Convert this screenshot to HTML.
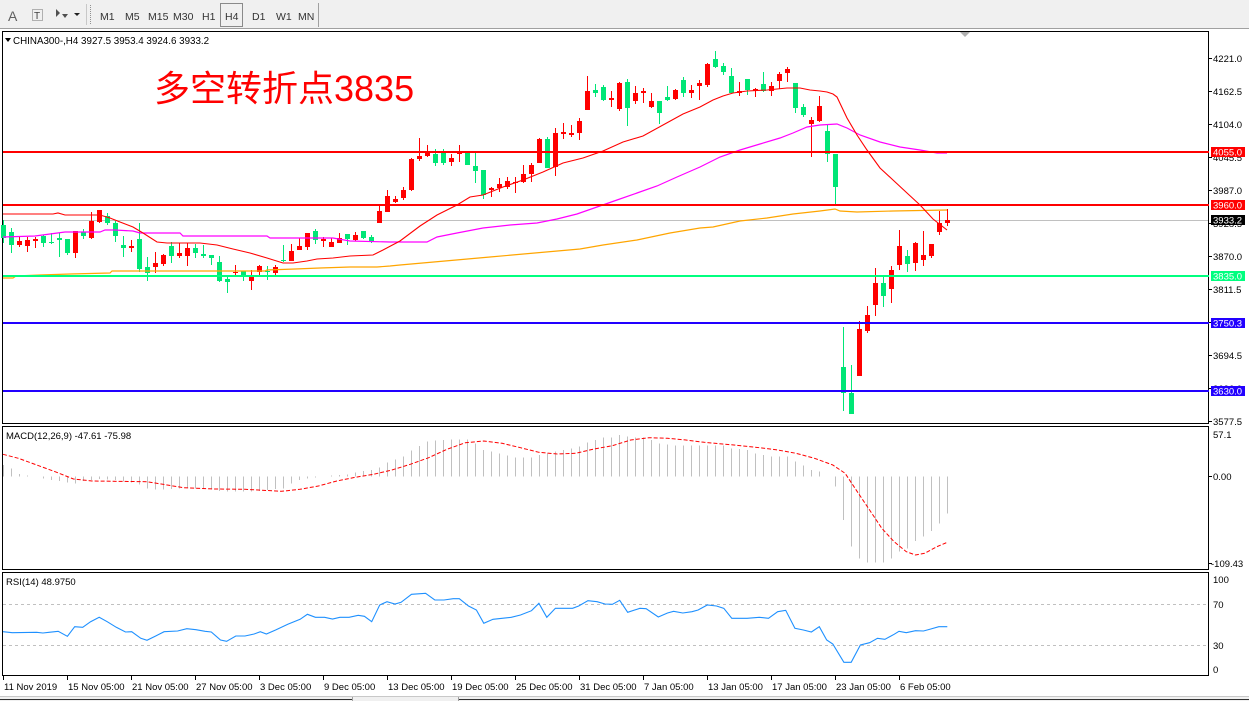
<!DOCTYPE html>
<html><head><meta charset="utf-8"><style>
html,body{margin:0;padding:0;background:#fff;width:1249px;height:701px;overflow:hidden}
svg{display:block}
text{font-family:"Liberation Sans","Noto Sans CJK SC",sans-serif}
</style></head><body>
<svg width="1249" height="701" viewBox="0 0 1249 701" xmlns="http://www.w3.org/2000/svg">
<rect x="0" y="0" width="1249" height="701" fill="#fff"/>
<!-- toolbar -->
<rect x="0" y="0" width="1249" height="28" fill="#f0f0f0"/>
<line x1="0" y1="28.5" x2="1249" y2="28.5" stroke="#a0a0a0"/>
<text x="8" y="21" font-size="14" fill="#606060">A</text>
<rect x="32.5" y="9.5" width="10" height="11" fill="none" stroke="#707070" stroke-dasharray="1 1"/>
<text x="34" y="19" font-size="10" fill="#404040">T</text>
<path d="M56 9 l4 4 l-4 4z M62 14 l6 0 l-3 4z" fill="#505050"/>
<path d="M74 13 h6 l-3 3z" fill="#202020"/>
<line x1="90.5" y1="5" x2="90.5" y2="24" stroke="#909090" stroke-dasharray="1 1"/>
<line x1="86.5" y1="4" x2="86.5" y2="25" stroke="#c8c8c8"/>
<g font-size="10.5" fill="#333">
<text x="100" y="20">M1</text>
<text x="125" y="20">M5</text>
<text x="148" y="20">M15</text>
<text x="173" y="20">M30</text>
<text x="202" y="20">H1</text>
<text x="225" y="20">H4</text>
<text x="252" y="20">D1</text>
<text x="276" y="20">W1</text>
<text x="298" y="20">MN</text>
</g>
<rect x="220.5" y="3.5" width="22" height="23" fill="none" stroke="#8a8a8a"/>
<line x1="318.5" y1="3" x2="318.5" y2="27" stroke="#a0a0a0"/>

<!-- panels -->
<rect x="2.5" y="31.5" width="1206" height="392" fill="#fff" stroke="#000"/>
<rect x="2.5" y="426.5" width="1206" height="143" fill="#fff" stroke="#000"/>
<rect x="2.5" y="572.5" width="1206" height="103" fill="#fff" stroke="#000"/>

<!-- title -->
<path d="M5 38 h6 l-3 4z" fill="#000"/>
<text x="13" y="44" font-size="9.8" fill="#000">CHINA300-,H4  3927.5 3953.4 3924.6 3933.2</text>
<text x="154" y="101" font-size="36" fill="#ff0000">多空转折点3835</text>
<path d="M960 32 h10 l-5 5z" fill="#b0b0b0"/>

<!-- bid line -->
<line x1="3" y1="220.5" x2="1208" y2="220.5" stroke="#c0c0c0"/>

<!-- candles -->
<g shape-rendering="crispEdges">
<path fill="none" stroke="#00e676" stroke-width="1" d="M3.5 220V243M11.5 228V253M43.5 235V247M51.5 233V244M59.5 233V257M67.5 239V255M83.5 229V239M107.5 213V225M115.5 221V242M123.5 236V257M139.5 223V272M147.5 257V281M171.5 242V263M195.5 244V258M203.5 245V258M211.5 255V265M219.5 256V282M227.5 275V293M243.5 271V281M267.5 266V280M283.5 245V262M315.5 229V244M347.5 234V245M363.5 231V239M371.5 235V243M435.5 149V166M443.5 149V165M467.5 153V165M475.5 153V183M483.5 170V199M547.5 137V168M595.5 84V97M603.5 85V101M627.5 79V126M659.5 101V124M667.5 86V101M683.5 77V97M715.5 51V68M723.5 63V75M731.5 68V93M747.5 79V95M763.5 72V92M795.5 83V113M803.5 104V117M827.5 125V162M835.5 154V204M843.5 327V411M851.5 365V414M883.5 277V307M907.5 250V272"/>
<path fill="#00e676" d="M1 225h5V238h-5ZM9 232h5V245h-5ZM41 236h5V243h-5ZM49 242h5V243h-5ZM57 238h5V240h-5ZM65 239h5V253h-5ZM81 232h5V236h-5ZM105 216h5V223h-5ZM113 223h5V236h-5ZM121 245h5V248h-5ZM137 239h5V269h-5ZM145 267h5V273h-5ZM169 246h5V256h-5ZM193 248h5V253h-5ZM201 254h5V256h-5ZM209 255h5V258h-5ZM217 262h5V281h-5ZM225 279h5V282h-5ZM241 271h5V277h-5ZM265 271h5V272h-5ZM281 260h5V261h-5ZM313 231h5V240h-5ZM345 234h5V239h-5ZM361 231h5V238h-5ZM369 237h5V242h-5ZM433 154h5V163h-5ZM441 153h5V163h-5ZM465 153h5V165h-5ZM473 166h5V171h-5ZM481 170h5V195h-5ZM545 139h5V168h-5ZM593 90h5V93h-5ZM601 87h5V100h-5ZM625 82h5V108h-5ZM657 101h5V113h-5ZM665 97h5V100h-5ZM681 80h5V93h-5ZM713 59h5V67h-5ZM721 66h5V72h-5ZM729 76h5V93h-5ZM745 79h5V90h-5ZM761 84h5V91h-5ZM793 83h5V108h-5ZM801 107h5V115h-5ZM825 131h5V154h-5ZM833 154h5V187h-5ZM841 367h5V393h-5ZM849 393h5V414h-5ZM881 283h5V296h-5ZM905 256h5V264h-5Z"/>
<path fill="none" stroke="#ff0000" stroke-width="1" d="M19.5 237V247M27.5 237V252M35.5 237V248M75.5 231V258M91.5 212V239M99.5 210V223M131.5 240V252M155.5 252V273M163.5 254V266M179.5 243V258M187.5 243V266M235.5 265V275M251.5 270V290M259.5 265V275M275.5 265V275M291.5 244V261M299.5 238V250M307.5 233V250M323.5 237V247M331.5 238V247M339.5 233V243M355.5 232V241M379.5 206V223M387.5 190V212M395.5 196V203M403.5 187V200M411.5 158V191M419.5 138V161M427.5 145V157M451.5 154V166M459.5 145V162M491.5 187V197M499.5 178V192M507.5 177V189M515.5 177V193M523.5 165V183M531.5 163V182M539.5 138V163M555.5 128V176M563.5 123V139M571.5 125V137M579.5 118V140M587.5 76V110M611.5 91V107M619.5 82V111M635.5 86V104M643.5 88V103M651.5 93V108M675.5 89V100M691.5 85V98M699.5 80V100M707.5 63V87M739.5 82V96M755.5 88V97M771.5 82V96M779.5 72V89M787.5 67V82M811.5 117V157M819.5 96V122M859.5 321V376M867.5 306V333M875.5 268V316M891.5 266V303M899.5 230V270M915.5 242V271M923.5 231V266M931.5 244V258M939.5 211V235M947.5 209V226"/>
<path fill="#ff0000" d="M17 241h5V245h-5ZM25 240h5V246h-5ZM33 239h5V241h-5ZM73 231h5V253h-5ZM89 221h5V238h-5ZM97 210h5V222h-5ZM129 246h5V248h-5ZM153 263h5V267h-5ZM161 255h5V264h-5ZM177 253h5V256h-5ZM185 248h5V256h-5ZM233 272h5V273h-5ZM249 276h5V281h-5ZM257 266h5V272h-5ZM273 267h5V273h-5ZM289 251h5V261h-5ZM297 246h5V250h-5ZM305 233h5V247h-5ZM321 239h5V241h-5ZM329 242h5V247h-5ZM337 238h5V243h-5ZM353 235h5V240h-5ZM377 211h5V223h-5ZM385 196h5V212h-5ZM393 199h5V202h-5ZM401 190h5V198h-5ZM409 159h5V190h-5ZM417 156h5V159h-5ZM425 153h5V156h-5ZM449 158h5V162h-5ZM457 153h5V154h-5ZM489 188h5V190h-5ZM497 184h5V188h-5ZM505 181h5V187h-5ZM513 182h5V183h-5ZM521 174h5V182h-5ZM529 165h5V174h-5ZM537 139h5V163h-5ZM553 133h5V167h-5ZM561 132h5V134h-5ZM569 133h5V135h-5ZM577 121h5V133h-5ZM585 91h5V110h-5ZM609 98h5V100h-5ZM617 83h5V109h-5ZM633 93h5V101h-5ZM641 91h5V93h-5ZM649 101h5V107h-5ZM673 90h5V99h-5ZM689 90h5V93h-5ZM697 83h5V86h-5ZM705 64h5V85h-5ZM737 91h5V93h-5ZM753 89h5V91h-5ZM769 86h5V91h-5ZM777 74h5V81h-5ZM785 69h5V73h-5ZM809 120h5V124h-5ZM817 106h5V121h-5ZM857 329h5V376h-5ZM865 315h5V331h-5ZM873 283h5V305h-5ZM889 270h5V289h-5ZM897 246h5V265h-5ZM913 243h5V263h-5ZM921 255h5V260h-5ZM929 244h5V256h-5ZM937 223h5V232h-5ZM945 220h5V223h-5Z"/>
</g>

<!-- moving averages -->
<polyline fill="none" stroke="#ffa500" stroke-width="1.2" points="3,278 13,278 16,276 40,275 70,274 110,273 112,271 265,271 267,270 295,269 320,268 350,267 377,267 390,266 400,265 490,257 580,249 603,245 637,240 670,233 700,228 713,227 740,221 767,218 793,214 820,211 835,209 840,211 857,212 893,211 947,210"/>
<polyline fill="none" stroke="#ff00ff" stroke-width="1.2" points="3,237 35,236 50,234 65,232 100,232 105,230 115,230 133,231 140,233 180,233 183,236 267,236 270,238 333,238 350,241 390,242 427,242 437,237 457,233 483,228 510,225 537,223 557,219 577,214 597,207 617,200 637,193 657,186 677,177 700,167 720,157 740,150 760,144 780,138 793,133 807,127 820,125 837,124 847,128 860,135 880,142 900,147 920,150 937,153 947,153"/>
<polyline fill="none" stroke="#ff0000" stroke-width="1.1" points="3,214 53,214 58,213 65,215 100,215 110,218 120,222 133,227 143,233 157,242 167,243 200,243 217,245 233,249 250,253 267,258 283,263 293,263 307,261 317,259 333,258 350,256 373,255 383,250 400,241 420,226 437,215 457,205 470,197 483,195 503,187 523,180 543,172 563,163 583,158 603,151 623,142 643,136 663,125 683,114 700,107 713,100 723,96 733,93 747,91 767,90 787,88 800,88 810,90 820,91 827,92 833,94 837,97 847,118 857,135 867,150 880,168 893,180 907,193 920,205 933,219 947,230"/>

<!-- horizontal levels -->
<g shape-rendering="crispEdges">
<rect x="3" y="151" width="1206" height="2" fill="#ff0000"/>
<rect x="3" y="204" width="1206" height="2" fill="#ff0000"/>
<rect x="3" y="275" width="1206" height="2" fill="#00ff7f"/>
<rect x="3" y="322" width="1206" height="2" fill="#2200ff"/>
<rect x="3" y="390" width="1206" height="2" fill="#2200ff"/>
</g>

<!-- price axis -->
<g stroke="#000" shape-rendering="crispEdges">
<path d="M1209 58.5h3M1209 91.5h3M1209 124.5h3M1209 157.5h3M1209 190.5h3M1209 223.5h3M1209 256.5h3M1209 289.5h3M1209 322.5h3M1209 355.5h3M1209 388.5h3M1209 421.5h3"/>
</g>
<g font-size="9.5" fill="#000">
<text x="1213" y="62">4221.0</text>
<text x="1213" y="95">4162.5</text>
<text x="1213" y="128">4104.0</text>
<text x="1213" y="161">4045.5</text>
<text x="1213" y="194">3987.0</text>
<text x="1213" y="227">3928.5</text>
<text x="1213" y="260">3870.0</text>
<text x="1213" y="293">3811.5</text>
<text x="1213" y="326">3753.0</text>
<text x="1213" y="359">3694.5</text>
<text x="1213" y="392">3636.0</text>
<text x="1213" y="425">3577.5</text>
</g>
<g shape-rendering="crispEdges">
<rect x="1211" y="147" width="34" height="10" fill="#ff0000"/>
<rect x="1211" y="200" width="34" height="10" fill="#ff0000"/>
<rect x="1211" y="215" width="34" height="10" fill="#000"/>
<rect x="1211" y="271" width="34" height="10" fill="#00ff7f"/>
<rect x="1211" y="318" width="34" height="10" fill="#2200ff"/>
<rect x="1211" y="386" width="34" height="10" fill="#2200ff"/>
</g>
<g font-size="9.5" fill="#fff">
<text x="1213" y="155.5">4055.0</text>
<text x="1213" y="208.5">3960.0</text>
<text x="1213" y="223.5">3933.2</text>
<text x="1213" y="279.5">3835.0</text>
<text x="1213" y="326.5">3750.3</text>
<text x="1213" y="394.5">3630.0</text>
</g>

<!-- MACD -->
<text x="6" y="439" font-size="9.5" fill="#000">MACD(12,26,9) -47.61 -75.98</text>
<path fill="none" stroke="#c0c0c0" stroke-width="1" shape-rendering="crispEdges" d="M3.5 476.5V465M11.5 476.5V468.3M19.5 476.5V474M27.5 476.5V475.7M43.5 476.5V478.3M51.5 476.5V480M59.5 476.5V481M67.5 476.5V482.3M75.5 476.5V483.3M83.5 476.5V481M91.5 476.5V480M99.5 476.5V479M107.5 476.5V479.3M115.5 476.5V480M123.5 476.5V481.7M131.5 476.5V482.3M139.5 476.5V484.3M147.5 476.5V488.3M155.5 476.5V489.3M163.5 476.5V489.3M171.5 476.5V489M179.5 476.5V488.3M187.5 476.5V487.7M195.5 476.5V488.3M203.5 476.5V489M211.5 476.5V489.3M219.5 476.5V491M227.5 476.5V491.7M235.5 476.5V491.7M243.5 476.5V491.7M251.5 476.5V491.7M259.5 476.5V491M267.5 476.5V490M275.5 476.5V489M283.5 476.5V488.3M291.5 476.5V483.3M299.5 476.5V480M307.5 476.5V478.3M315.5 476.5V477.3M331.5 476.5V475.7M339.5 476.5V475M347.5 476.5V474.3M355.5 476.5V472.7M363.5 476.5V471M371.5 476.5V470M379.5 476.5V467.7M387.5 476.5V462.7M395.5 476.5V459.3M403.5 476.5V456.7M411.5 476.5V450.7M419.5 476.5V446M427.5 476.5V441.7M435.5 476.5V440.7M443.5 476.5V440M451.5 476.5V439.3M459.5 476.5V439.3M467.5 476.5V439.3M475.5 476.5V443.3M483.5 476.5V450M491.5 476.5V451.7M499.5 476.5V453.3M507.5 476.5V455.7M515.5 476.5V457.3M523.5 476.5V457.3M531.5 476.5V457.3M539.5 476.5V455M547.5 476.5V453.3M555.5 476.5V451.7M563.5 476.5V450M571.5 476.5V448.3M579.5 476.5V446.7M587.5 476.5V442.3M595.5 476.5V440M603.5 476.5V437.7M611.5 476.5V437.7M619.5 476.5V435M627.5 476.5V436.7M635.5 476.5V437.3M643.5 476.5V437.3M651.5 476.5V440M659.5 476.5V443.3M667.5 476.5V444.3M675.5 476.5V445.7M683.5 476.5V445.7M691.5 476.5V445.7M699.5 476.5V445.7M707.5 476.5V445.7M715.5 476.5V445.7M723.5 476.5V445.7M731.5 476.5V448.3M739.5 476.5V449M747.5 476.5V450M755.5 476.5V453.3M763.5 476.5V455M771.5 476.5V456.7M779.5 476.5V456.7M787.5 476.5V456.7M795.5 476.5V461.7M803.5 476.5V465.7M811.5 476.5V470M819.5 476.5V471.7M835.5 476.5V486.7M843.5 476.5V520M851.5 476.5V546.7M859.5 476.5V558.3M867.5 476.5V562.7M875.5 476.5V562.7M883.5 476.5V562.7M891.5 476.5V558.3M899.5 476.5V551.7M907.5 476.5V548.3M915.5 476.5V541M923.5 476.5V536.7M931.5 476.5V531M939.5 476.5V523.3M947.5 476.5V513.3"/>
<polyline fill="none" stroke="#ff0000" stroke-width="1" stroke-dasharray="4 2" points="3,454.3 18.4,458.3 36.7,465 55.1,471.7 73.5,479 91.9,481 147,481.7 183.7,487.7 214.3,489 245,489.3 281.7,491.3 300,489.3 318.4,486 336.8,481 355.2,477.3 373.5,474.3 391.9,470 410.3,464.3 428.7,457.7 447,449.3 465.4,442.7 483.8,441 502.1,443.3 520.5,447.7 538.9,452.3 557.3,454 575.6,453.3 594,449 612.4,445.7 630.7,440 649.1,437.7 667.5,438.3 685.9,440 704.2,442.3 722.6,444 741,445.7 759.3,447.7 777.7,450 796.1,453.3 814.5,458.3 832.8,465 845.1,473.3 857.3,491.7 869.6,510 881.8,528.3 894.1,541.7 906.3,551.7 915.5,555 924.7,553.3 936.9,546.7 947.3,542.3"/>
<g stroke="#000" shape-rendering="crispEdges"><path d="M1209 476.5h3M1209 563.5h3"/></g>
<g font-size="9.5" fill="#000">
<text x="1213" y="438">57.1</text>
<text x="1213" y="480">0.00</text>
<text x="1211" y="567">-109.43</text>
</g>

<!-- RSI -->
<text x="6" y="585" font-size="9.5" fill="#000">RSI(14) 48.9750</text>
<line x1="3" y1="604.5" x2="1208" y2="604.5" stroke="#c0c0c0" stroke-dasharray="3 3"/>
<line x1="3" y1="645.5" x2="1208" y2="645.5" stroke="#c0c0c0" stroke-dasharray="3 3"/>
<polyline fill="none" stroke="#1e90ff" stroke-width="1.1" points="3,631.7 12.2,632.7 36.7,632.3 42.9,633 49,632.3 58.2,631.3 67.4,636.3 74.7,626.7 82.7,627.3 90.6,621.7 99.2,617.3 107.2,621.7 116.3,627.3 125.5,632 131.7,631.7 140.8,638.3 147,640.3 156.2,635.7 164.1,631.7 177.6,631 186.8,628.7 196,629.7 205.1,631.3 211.3,632 220.5,640 226.6,641.3 235.8,636 245,636 254.1,634 260.3,631.7 266.4,634 275.6,630 287.8,624.3 300.1,619.3 307.4,614.3 315.4,617.3 324.6,617.3 332.5,619 339.9,617.3 349.1,617.3 358.2,615.3 364.4,616.3 371.7,621.7 379.7,605 387,601.7 395,604 401.1,602.3 411.5,594.3 425.6,593.3 434.8,600 444,600 453.2,598.7 459.3,598.7 468.5,606 476.4,610 483.8,623.3 493,619.3 502.1,618.3 511.3,617.3 520.5,615 531.5,610.7 538.9,603.3 546.8,617.3 555.4,608.3 572.6,608.3 578.7,606 587.9,600.7 597.1,601.7 605,604 612.4,604.3 619.7,600.3 627.7,612.3 639.9,608.3 646.1,608.7 658.3,617 667.5,613 673.6,611.3 682.8,613 692,611.7 698.1,610 707.3,605 716.5,606 723.8,608.3 731.8,618.3 747.1,618.3 759.3,617.3 768.5,618.3 777.7,611.7 785.7,610.3 794.9,628.3 803.4,630 811.4,632 819.3,626.7 826.7,640 832.8,644 843.9,662.3 851.2,662.3 860.4,645 869.6,642.7 877.5,638.3 884.9,639.3 894.1,634.3 899,631.3 906.3,632.7 915.5,630.7 923.5,631 930.8,629 938.8,626.7 947.3,626.7"/>
<g font-size="9.5" fill="#000">
<text x="1213" y="583">100</text>
<text x="1213" y="608">70</text>
<text x="1213" y="649">30</text>
<text x="1213" y="673">0</text>
</g>

<!-- time axis -->
<g stroke="#000" shape-rendering="crispEdges">
<path d="M3.5 676v4M67.5 676v4M131.5 676v4M195.5 676v4M259.5 676v4M323.5 676v4M387.5 676v4M451.5 676v4M515.5 676v4M579.5 676v4M643.5 676v4M707.5 676v4M771.5 676v4M835.5 676v4M899.5 676v4"/>
</g>
<g font-size="9.5" fill="#000">
<text x="4" y="690">11 Nov 2019</text>
<text x="68" y="690">15 Nov 05:00</text>
<text x="132" y="690">21 Nov 05:00</text>
<text x="196" y="690">27 Nov 05:00</text>
<text x="260" y="690">3 Dec 05:00</text>
<text x="324" y="690">9 Dec 05:00</text>
<text x="388" y="690">13 Dec 05:00</text>
<text x="452" y="690">19 Dec 05:00</text>
<text x="516" y="690">25 Dec 05:00</text>
<text x="580" y="690">31 Dec 05:00</text>
<text x="644" y="690">7 Jan 05:00</text>
<text x="708" y="690">13 Jan 05:00</text>
<text x="772" y="690">17 Jan 05:00</text>
<text x="836" y="690">23 Jan 05:00</text>
<text x="900" y="690">6 Feb 05:00</text>
</g>

<!-- bottom tab bar -->
<rect x="0" y="696" width="1249" height="5" fill="#f0f0f0"/>
<line x1="0" y1="696.5" x2="1249" y2="696.5" stroke="#c8c8c8"/>
<line x1="0" y1="699.5" x2="352" y2="699.5" stroke="#303030"/>
<line x1="459" y1="699.5" x2="1249" y2="699.5" stroke="#303030"/>
<line x1="352.5" y1="697" x2="352.5" y2="701" stroke="#a0a0a0"/>
<line x1="458.5" y1="697" x2="458.5" y2="701" stroke="#a0a0a0"/>
</svg>
</body></html>
